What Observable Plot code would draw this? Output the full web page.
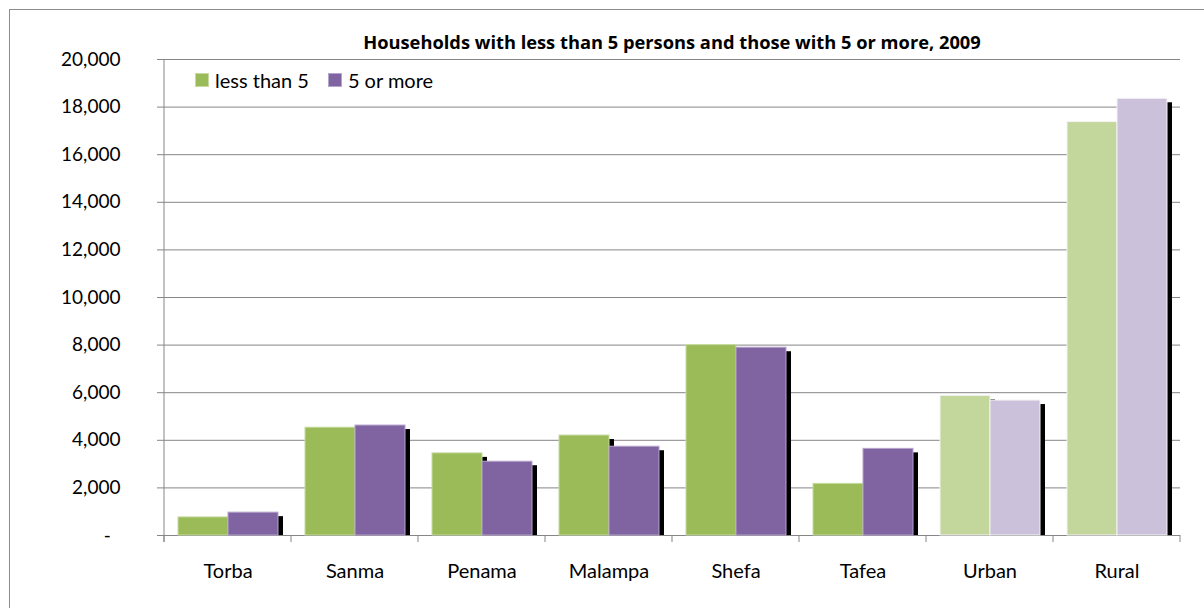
<!DOCTYPE html>
<html>
<head>
<meta charset="utf-8">
<script src="https://cdn.jsdelivr.net/npm/d3@7"></script>
<script src="https://cdn.jsdelivr.net/npm/@observablehq/plot@0.6"></script>
<style>
  body { margin: 0; background: #fff; font-family: Lato, "Open Sans", sans-serif; }
  #wrap { position: relative; width: 1204px; height: 608px; overflow: hidden; }
  #border { position: absolute; left: 9px; top: 9px; width: 1400px; height: 800px;
            border-left: 1px solid #8c8c8c; border-top: 1px solid #8c8c8c; }
  #chart { position: absolute; left: 0; top: 0; }
  #title { position: absolute; left: 164px; width: 1016px; top: 30px; text-align: center;
           font-family: "Open Sans", sans-serif; font-weight: bold; font-size: 18.3px;
           line-height: 24px; color: #000; }
  #legend { position: absolute; left: 196px; top: 68px; font-size: 20px; line-height: 24px;
            display: flex; align-items: center; color: #000; }
  .sw { display: inline-block; width: 12px; height: 12px; margin-right: 7px; }
  .item { display: flex; align-items: center; margin-right: 20px; }
</style>
</head>
<body>
<div id="wrap">
  <div id="border"></div>
  <div id="chart"></div>
  <div id="title"></div>
  <div id="legend"></div>
</div>
<script>
// ---- data ----
const chartTitle = "Households with less than 5 persons and those with 5 or more, 2009";
const categories = ["Torba", "Sanma", "Penama", "Malampa", "Shefa", "Tafea", "Urban", "Rural"];
const seriesNames = ["less than 5", "5 or more"];
const lessThan5 = [760, 4530, 3450, 4200, 8000, 2170, 5870, 17370];
const fiveOrMore = [960, 4620, 3100, 3730, 7890, 3640, 5670, 18350];
const yTicks = [0, 2000, 4000, 6000, 8000, 10000, 12000, 14000, 16000, 18000, 20000];
const lightCategories = ["Urban", "Rural"];

// ---- styles ----
const colors = { "less than 5": "#9bbb59", "5 or more": "#8064a2" };
const lightColors = { "less than 5": "#c3d69b", "5 or more": "#ccc1da" };
const edgeColors = { "less than 5": "#c6dba0", "5 or more": "#b5a4cc" };
const gridColor = "#868686";

const data = categories.flatMap((c, i) => [
  { cat: c, series: seriesNames[0], value: lessThan5[i] },
  { cat: c, series: seriesNames[1], value: fiveOrMore[i] }
]);

const fillOf = d => lightCategories.includes(d.cat) ? lightColors[d.series] : colors[d.series];
const strokeOf = d => lightCategories.includes(d.cat) ? "#f4f4f4" : edgeColors[d.series];
const fmt = d3.format(",");

const plot = Plot.plot({
  width: 1204,
  height: 608,
  marginLeft: 164,
  marginRight: 24,
  marginTop: 59,
  marginBottom: 73,
  style: { fontFamily: "Lato, 'Open Sans', sans-serif", background: "transparent" },
  fx: { domain: categories, padding: 0, label: null },
  x: { domain: seriesNames, paddingInner: 0, paddingOuter: 0.26, axis: null },
  y: { domain: [0, 20000], axis: null, label: null },
  marks: [
    Plot.gridY(yTicks, { stroke: gridColor, strokeOpacity: 1, strokeWidth: 1 }),
    Plot.barY(data, { fx: "cat", x: "series", y: "value", fill: "#000", dx: 5, dy: 4, clip: true }),
    Plot.barY(data, { fx: "cat", x: "series", y: "value", fill: fillOf, stroke: strokeOf, strokeWidth: 1 }),
    Plot.axisY(yTicks, {
      label: null,
      tickSize: 7, tickPadding: 37, fontSize: 19,
      tickFormat: d => d === 0 ? "-\u00a0\u00a0" : fmt(d),
      stroke: gridColor, fill: "#000"
    }),
    Plot.axisFx({ anchor: "bottom", tickSize: 0, tickPadding: 28, fontSize: 20, label: null, fill: "#000" })
  ]
});

document.getElementById("chart").appendChild(plot);

// axis line and category-boundary ticks, placed from the library's own scales
const fx = plot.scale("fx");
const ys = plot.scale("y");
const svg = d3.select(plot);
const y0 = ys.apply(0), yTop = ys.apply(20000);
const bounds = categories.map(c => fx.apply(c));
bounds.push(fx.apply(categories[categories.length - 1]) + fx.bandwidth);
const g = svg.append("g").attr("stroke", gridColor).attr("stroke-width", 1);
g.append("line").attr("x1", bounds[0]).attr("x2", bounds[0]).attr("y1", yTop).attr("y2", y0 + 7);
bounds.forEach(b => g.append("line").attr("x1", b).attr("x2", b).attr("y1", y0).attr("y2", y0 + 7));

// title & legend
document.getElementById("title").textContent = chartTitle;
const legend = document.getElementById("legend");
seriesNames.forEach(s => {
  const it = document.createElement("span");
  it.className = "item";
  const sw = document.createElement("span");
  sw.className = "sw";
  sw.style.background = colors[s];
  sw.style.outline = "1px solid " + edgeColors[s];
  it.appendChild(sw);
  it.appendChild(document.createTextNode(s));
  legend.appendChild(it);
});
</script>
</body>
</html>
